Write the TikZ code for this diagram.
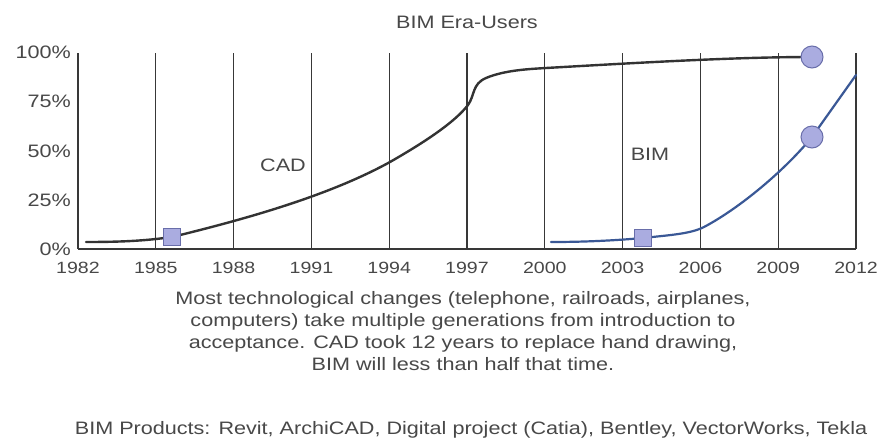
\documentclass[tikz,border=0pt]{standalone}
\usepackage{fontspec}
\setmainfont{Liberation Sans}[FakeStretch=1.2]
\definecolor{inkgray}{RGB}{72,72,72}
\definecolor{bimblue}{RGB}{58,88,150}
\definecolor{markfill}{RGB}{170,172,224}
\definecolor{markedge}{RGB}{105,110,170}
\begin{document}
\begin{tikzpicture}[x=1pt,y=-1pt,
  txt/.style={text=inkgray, inner sep=0pt, font=\fontsize{18}{22}\selectfont},
  yrtxt/.style={text=inkgray, inner sep=0pt, font=\fontsize{16.3}{20}\selectfont},
  grid/.style={draw=black!78, line width=1.3pt},
  cadline/.style={draw=black!80, line width=2.4pt, line cap=round},
  bimline/.style={draw=bimblue, line width=2.2pt, line cap=round},
  sqmark/.style={draw=markedge, fill=markfill, line width=1pt, minimum size=17pt, inner sep=0pt},
  dotmark/.style={circle, draw=markedge, fill=markfill, line width=1pt, minimum size=22pt, inner sep=0pt}]
\useasboundingbox[fill=white] (0,0) rectangle (887,445);

% title
\node[txt] (title) at (467,22) {BIM Era-Users};

% vertical year lines and year labels
\foreach \i/\yr in {0/1982,1/1985,2/1988,3/1991,4/1994,5/1997,6/2000,7/2003,8/2006,9/2009,10/2012} {
  \coordinate (top\i) at ({78+77.8*\i},53);
  \coordinate (bot\i) at ({78+77.8*\i},249);
  \draw[grid] (top\i) -- (bot\i);
  \node[yrtxt] (yr\i) at ({78+77.8*\i},268) {\yr};
}
% baseline
\draw[grid] (bot0) -- (bot10);

% percentage labels
\foreach \p/\yy in {100/52,75/101,50/151,25/200,0/249} {
  \node[txt, anchor=east] (pc\p) at (71,\yy) {\p\%};
}

% CAD adoption curve
\draw[cadline] (86,242) .. controls (130,242) and (150,240) .. (172,237)
  .. controls (250,218) and (330,195) .. (390,162)
  .. controls (425,142) and (455,122) .. (468,105)
  .. controls (475,95) and (472,84) .. (486,78)
  .. controls (505,70) and (530,69) .. (546,68)
  .. controls (650,62) and (740,57) .. (812,57);
\node[sqmark] (cadsq) at (172,237) {};
\node[dotmark] (caddot) at (812,57) {};

% BIM adoption curve
\draw[bimline] (551,242) .. controls (590,242) and (620,240) .. (643,238)
  .. controls (670,235) and (690,234) .. (704,227)
  .. controls (740,208) and (785,170) .. (812,137)
  -- (856,75);
\node[sqmark] (bimsq) at (643,238) {};
\node[dotmark] (bimdot) at (812,137) {};

% curve labels
\node[txt] (cadlbl) at (283,165) {CAD};
\node[txt] (bimlbl) at (650,154) {BIM};

% caption
\node[txt, align=center, font=\fontsize{18}{22.2}\selectfont, anchor=north] (caption) at (463,291)
  {Most technological changes (telephone, railroads, airplanes,\\
   computers) take multiple generations from introduction to\\
   acceptance. CAD took 12 years to replace hand drawing,\\
   BIM will less than half that time.};
\node[txt] (products) at (471,430)
  {BIM Products: Revit, ArchiCAD, Digital project (Catia), Bentley, VectorWorks, Tekla};
\end{tikzpicture}
\end{document}
